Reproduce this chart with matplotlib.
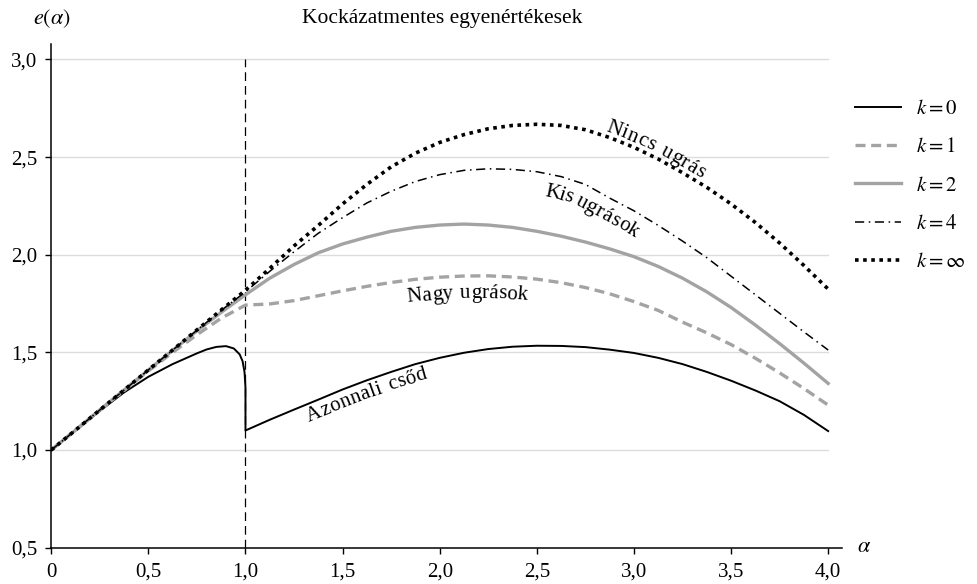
import numpy as np
import matplotlib
matplotlib.use("Agg")
import matplotlib.pyplot as plt
from matplotlib.font_manager import FontProperties
from matplotlib.transforms import IdentityTransform

plt.rcParams['font.family'] = ['Liberation Serif', 'DejaVu Serif']
plt.rcParams['mathtext.fontset'] = 'stix'

# alpha grid shared by k=1, 2, 4, inf
alpha = [0, 0.125, 0.25, 0.375, 0.5, 0.625, 0.75, 0.875, 1.0,
         1.125, 1.25, 1.375, 1.5, 1.625, 1.75, 1.875, 2.0,
         2.125, 2.25, 2.375, 2.5, 2.625, 2.75, 2.875, 3.0,
         3.125, 3.25, 3.375, 3.5, 3.625, 3.75, 3.875, 4.0]

e_inf = [1.0, 1.102, 1.205, 1.307, 1.41, 1.512, 1.615, 1.717, 1.818,
         1.93, 2.045, 2.15, 2.26, 2.36, 2.45, 2.52, 2.575,
         2.615, 2.645, 2.662, 2.668, 2.662, 2.64, 2.60, 2.55,
         2.49, 2.42, 2.345, 2.26, 2.165, 2.06, 1.945, 1.824]
e_4 = [1.0, 1.102, 1.205, 1.307, 1.41, 1.512, 1.613, 1.715, 1.81,
       1.915, 2.015, 2.11, 2.19, 2.265, 2.325, 2.375, 2.41,
       2.432, 2.44, 2.437, 2.425, 2.40, 2.36, 2.29, 2.225,
       2.15, 2.07, 1.985, 1.89, 1.795, 1.70, 1.605, 1.512]
e_2 = [1.0, 1.102, 1.205, 1.307, 1.41, 1.51, 1.61, 1.705, 1.795,
       1.88, 1.95, 2.01, 2.055, 2.09, 2.12, 2.14, 2.152,
       2.157, 2.152, 2.14, 2.12, 2.095, 2.065, 2.03, 1.99,
       1.94, 1.88, 1.81, 1.73, 1.64, 1.545, 1.445, 1.341]
e_1 = [1.0, 1.102, 1.205, 1.305, 1.405, 1.50, 1.59, 1.675, 1.742,
       1.748, 1.765, 1.79, 1.815, 1.838, 1.858, 1.874, 1.885,
       1.891, 1.892, 1.886, 1.875, 1.857, 1.832, 1.80, 1.76,
       1.715, 1.655, 1.60, 1.54, 1.47, 1.395, 1.315, 1.23]

# k=0 has a jump at alpha=1
alpha_0 = [0, 0.125, 0.25, 0.375, 0.5, 0.625, 0.75, 0.8, 0.85, 0.9, 0.94,
           0.97, 0.985, 0.995, 1.0,
           1.0, 1.125, 1.25, 1.375, 1.5, 1.625, 1.75, 1.875, 2.0,
           2.125, 2.25, 2.375, 2.5, 2.625, 2.75, 2.875, 3.0,
           3.125, 3.25, 3.375, 3.5, 3.625, 3.75, 3.875, 4.0]
e_0 = [1.0, 1.10, 1.20, 1.295, 1.375, 1.44, 1.495, 1.515, 1.528, 1.532, 1.52,
       1.49, 1.455, 1.40, 1.32,
       1.10, 1.155, 1.207, 1.258, 1.31, 1.357, 1.40, 1.44, 1.472,
       1.498, 1.517, 1.529, 1.534, 1.533, 1.527, 1.514, 1.497,
       1.472, 1.44, 1.40, 1.355, 1.305, 1.25, 1.18, 1.097]

xticks = [0, 0.5, 1.0, 1.5, 2.0, 2.5, 3.0, 3.5, 4.0]
xticklabels = ['0', '0,5', '1,0', '1,5', '2,0', '2,5', '3,0', '3,5', '4,0']
yticks = [0.5, 1.0, 1.5, 2.0, 2.5, 3.0]
yticklabels = ['0,5', '1,0', '1,5', '2,0', '2,5', '3,0']

gray = '#a3a3a3'
fs = 15

fig = plt.figure(figsize=(9.78, 5.84), dpi=100)
ax = fig.add_axes([0.0524, 0.0622, 0.8083, 0.8628])

for y in yticks[1:]:
    ax.plot([0, 4], [y, y], color='#dcdcdc', lw=1.0, zorder=0)

ax.plot([1, 1], [0.5, 3.0], color='black', lw=0.9, ls=(0, (7, 4)), zorder=1)

l0, = ax.plot(alpha_0, e_0, color='black', lw=1.4, label='$k = 0$')
l1, = ax.plot(alpha, e_1, color=gray, lw=2.4, ls=(0, (3, 1.7)), label='$k = 1$')
l2, = ax.plot(alpha, e_2, color=gray, lw=2.4, label='$k = 2$')
l4, = ax.plot(alpha, e_4, color='black', lw=1.1, ls=(0, (6, 3, 1, 3)), label='$k = 4$')
li, = ax.plot(alpha, e_inf, color='black', lw=2.6, ls=(0, (1, 1.25)), label=r'$k = \infty$')

ax.set_xlim(0, 4.07)
ax.set_ylim(0.5, 3.08)
ax.set_xticks(xticks)
ax.set_xticklabels(xticklabels)
ax.set_yticks(yticks)
ax.set_yticklabels(yticklabels)
ax.tick_params(labelsize=fs, length=4, width=1, direction='out')
ax.tick_params(axis='x', pad=7)
ax.tick_params(axis='y', pad=6)
ax.spines['top'].set_visible(False)
ax.spines['right'].set_visible(False)
ax.spines['left'].set_linewidth(1.1)
ax.spines['bottom'].set_linewidth(1.1)

fig.text(0.053, 0.968, r'$e(\alpha)$', fontsize=fs + 1, ha='center', va='center')
fig.text(0.884, 0.062, r'$\alpha$', fontsize=fs + 1, ha='center', va='center')
fig.text(0.452, 0.968, 'Kockázatmentes egyenértékesek', fontsize=fs + 0.5,
         ha='center', va='center')

fig.legend(handles=[l0, l1, l2, l4, li], loc='upper left', bbox_to_anchor=(0.874, 0.830),
           frameon=False, fontsize=fs, handlelength=2.2, handletextpad=0.75,
           labelspacing=0.9, borderpad=0, borderaxespad=0)


def curve_text(s, xs, ys, start, offset, size=fs, track=0.6):
    fig.canvas.draw()
    r = fig.canvas.get_renderer()
    pts = ax.transData.transform(np.column_stack([xs, ys]))
    seg = np.hypot(np.diff(pts[:, 0]), np.diff(pts[:, 1]))
    arc = np.concatenate([[0], np.cumsum(seg)])
    prop = FontProperties(family='Liberation Serif', size=size)
    base = r.get_text_width_height_descent('aa', prop, ismath=False)[0]
    pos = np.interp(start, xs, arc)
    for ch in s:
        w = r.get_text_width_height_descent('a' + ch + 'a', prop, ismath=False)[0] - base
        if ch == ' ':
            w = max(w, size * 0.42)
        w += track
        mid = pos + w / 2
        x = np.interp(mid, arc, pts[:, 0])
        y = np.interp(mid, arc, pts[:, 1])
        x1, y1 = np.interp(mid - 6, arc, pts[:, 0]), np.interp(mid - 6, arc, pts[:, 1])
        x2, y2 = np.interp(mid + 6, arc, pts[:, 0]), np.interp(mid + 6, arc, pts[:, 1])
        ang = np.arctan2(y2 - y1, x2 - x1)
        nx, ny = -np.sin(ang), np.cos(ang)
        ax.text(x + nx * offset, y + ny * offset, ch, transform=IdentityTransform(),
                rotation=np.degrees(ang), rotation_mode='anchor', ha='center',
                va='baseline', fontproperties=prop)
        pos += w


curve_text('Nincs ugrás', alpha, e_inf, 2.84, 5)
curve_text('Kis ugrások', alpha, e_4, 2.56, -22)
curve_text('Nagy ugrások', alpha, e_1, 1.82, -22)
curve_text('Azonnali csőd', alpha_0[15:], e_0[15:], 1.29, -17)

fig.savefig('out.png', dpi=100)
